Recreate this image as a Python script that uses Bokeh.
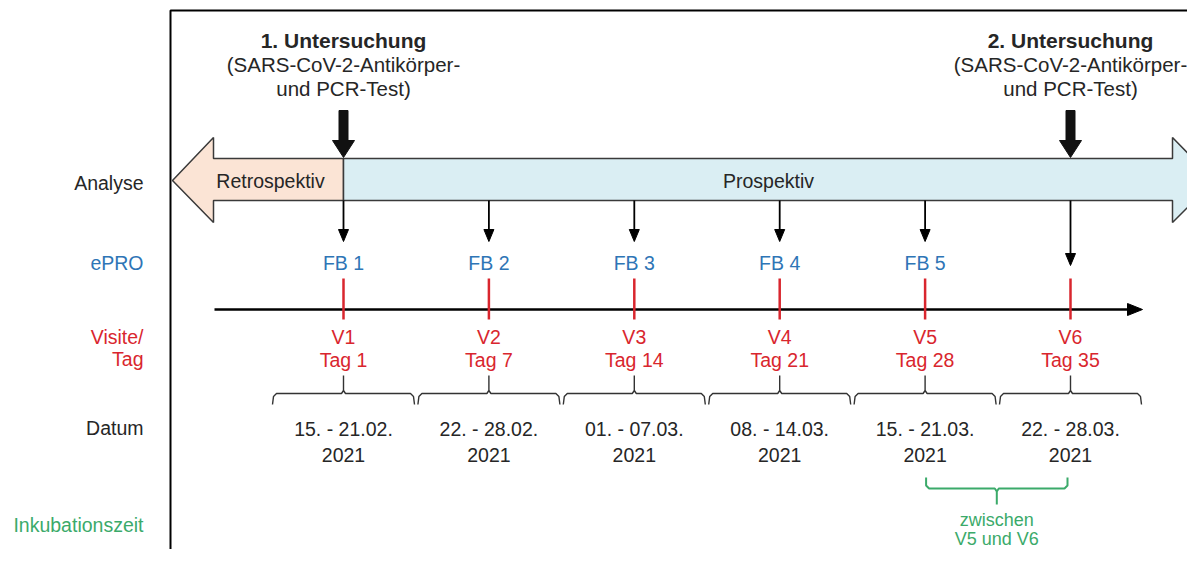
from bokeh.plotting import figure
from bokeh.models import Range1d
from bokeh.core.properties import value
from bokeh.embed import file_html
from bokeh.resources import INLINE

# ---- data ----
visits = ["V1", "V2", "V3", "V4", "V5", "V6"]
days = ["Tag 1", "Tag 7", "Tag 14", "Tag 21", "Tag 28", "Tag 35"]
fb_labels = ["FB 1", "FB 2", "FB 3", "FB 4", "FB 5", ""]
dates = ["15. - 21.02.", "22. - 28.02.", "01. - 07.03.", "08. - 14.03.", "15. - 21.03.", "22. - 28.03."]
years = ["2021", "2021", "2021", "2021", "2021", "2021"]
row_labels = ["Analyse", "ePRO", "Visite/", "Tag", "Datum", "Inkubationszeit"]
exam_titles = ["1. Untersuchung", "2. Untersuchung"]
exam_sub1 = ["(SARS-CoV-2-Antikörper-", "(SARS-CoV-2-Antikörper-"]
exam_sub2 = ["und PCR-Test)", "und PCR-Test)"]
exam_visit = [1, 6]
phase_labels = ["Retrospektiv", "Prospektiv"]
incub_text = ["zwischen", "V5 und V6"]
incub_between = [5, 6]

# ---- layout ----
X0, DX = 343.0, 145.4
def vx(i):
    return X0 + (i - 1) * DX

xs = [vx(i + 1) for i in range(len(visits))]

FONT = value("Liberation Sans")
DARK = "#262626"
BLUE = "#2E75B6"
RED = "#D9262E"
GREEN = "#3BAA6A"
FS = "19.5px"

p = figure(width=1187, height=549, x_range=Range1d(0, 1187), y_range=Range1d(549, 0),
           output_backend="svg", toolbar_location=None, min_border=0)
p.axis.visible = False
p.grid.visible = False
p.outline_line_color = None
p.background_fill_color = "white"

# frame
p.line([170, 170, 1210], [570, 10, 10], line_color="black", line_width=2)

# row labels (left)
LX = 143
row_y = [182, 262, 336, 358, 427, 524]
row_col = [DARK, BLUE, RED, RED, DARK, GREEN]
for t, y, c in zip(row_labels, row_y, row_col):
    p.text([LX], [y], text=[t], text_font=FONT, text_font_size=FS, text_color=c,
           text_align="right", text_baseline="middle")

# exam texts
ex = [vx(v) for v in exam_visit]
p.text(ex, [40, 40], text=exam_titles, text_font=FONT, text_font_size="21px",
       text_font_style="bold", text_color=DARK, text_align="center", text_baseline="middle")
p.text(ex, [64, 64], text=exam_sub1, text_font=FONT, text_font_size="20.5px",
       text_color=DARK, text_align="center", text_baseline="middle")
p.text(ex, [88, 88], text=exam_sub2, text_font=FONT, text_font_size="20.5px",
       text_color=DARK, text_align="center", text_baseline="middle")

# thick black arrows
for x in ex:
    p.patch([x - 4.5, x + 4.5, x + 4.5, x + 11, x, x - 11, x - 4.5],
            [110, 110, 140, 140, 157, 140, 140], fill_color="#111111", line_color="#111111")

# big band arrows
xs1 = vx(1)
BT, BB, HT, HB, MY = 158, 200, 137, 222, 180
p.patch([172, 213, 213, xs1, xs1, 213, 213], [MY, HT, BT, BT, BB, BB, HB],
        fill_color="#FBE4D5", line_color="#3a3a3a", line_width=1.5)
p.patch([xs1, 1172, 1172, 1214, 1172, 1172, xs1], [BT, BT, HT, MY, HB, BB, BB],
        fill_color="#DAEEF3", line_color="#3a3a3a", line_width=1.5)
p.text([270, 768], [MY, MY], text=phase_labels, text_font=FONT, text_font_size=FS,
       text_color=DARK, text_align="center", text_baseline="middle")

# thin arrows from band to FB labels
for i, x in enumerate(xs):
    end = 241 if fb_labels[i] else 265
    p.line([x, x], [BB, end - 9], line_color="black", line_width=1.8)
    p.patch([x - 5, x + 5, x], [end - 12, end - 12, end], fill_color="black", line_color="black")

# FB labels
p.text(xs, [262] * 6, text=fb_labels, text_font=FONT, text_font_size=FS,
       text_color=BLUE, text_align="center", text_baseline="middle")

# timeline
p.line([214, 1130], [309, 309], line_color="black", line_width=2.5)
p.patch([1127, 1142, 1127], [303, 309, 315], fill_color="black", line_color="black")
p.segment(xs, [278] * 6, xs, [319] * 6, line_color=RED, line_width=2.5)

# visit labels
p.text(xs, [336] * 6, text=visits, text_font=FONT, text_font_size=FS,
       text_color=RED, text_align="center", text_baseline="middle")
p.text(xs, [359] * 6, text=days, text_font=FONT, text_font_size=FS,
       text_color=RED, text_align="center", text_baseline="middle")

# brackets
bx, by = [], []
for x in xs:
    l, r = x - 71, x + 71
    bx.append([l, l + 1, l + 4, x - 2, x, x, x, x + 2, r - 4, r - 1, r])
    by.append([404, 396, 393, 393, 390, 375, 390, 393, 393, 396, 404])
p.multi_line(bx, by, line_color="#333333", line_width=1.4)

# dates
p.text(xs, [428] * 6, text=dates, text_font=FONT, text_font_size=FS,
       text_color=DARK, text_align="center", text_baseline="middle")
p.text(xs, [454] * 6, text=years, text_font=FONT, text_font_size=FS,
       text_color=DARK, text_align="center", text_baseline="middle")

# incubation bracket
gl, gr = vx(incub_between[0]) + 1, vx(incub_between[1]) - 3
gc = (gl + gr) / 2
p.line([gl, gl, gl + 3, gc - 2, gc, gc, gc, gc + 2, gr - 3, gr, gr],
       [477, 485, 488, 488, 491, 504, 491, 488, 488, 485, 477], line_color=GREEN, line_width=2)
p.text([gc, gc], [519, 538], text=incub_text, text_font=FONT, text_font_size="18px",
       text_color=GREEN, text_align="center", text_baseline="middle")

open("out.html", "w").write(file_html(p, INLINE))
